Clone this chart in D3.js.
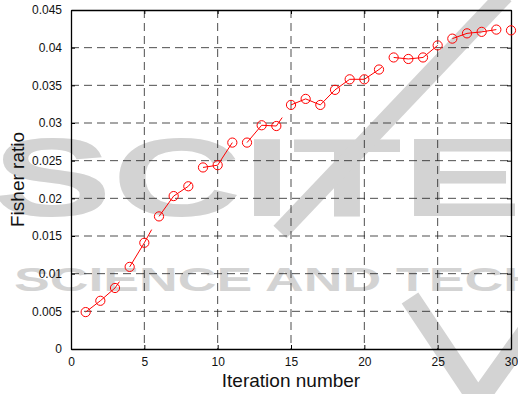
<!DOCTYPE html>
<html>
<head>
<meta charset="utf-8">
<script src="https://cdn.jsdelivr.net/npm/d3@7"></script>
<style>
  body { margin: 0; background: #fff; }
  svg { display: block; font-family: "Liberation Sans", Arial, sans-serif; }
</style>
</head>
<body>
<div id="chart"></div>
<script>
// iterations 1..30 and the Fisher ratio reached at each one
var iterations = d3.range(1, 31);
var fisherRatio = [0.0049, 0.0064, 0.0081, 0.0109, 0.0141, 0.0176, 0.0203, 0.0216, 0.0241, 0.0244,
                   0.0274, 0.0274, 0.0297, 0.0296, 0.0324, 0.0332, 0.0324, 0.0344, 0.0358, 0.0358,
                   0.0371, 0.0387, 0.0385, 0.0387, 0.0403, 0.0412, 0.0419, 0.0421, 0.0424, 0.0423];
// how much of each step (i -> i+1) of the connecting line is visible in the original
var stepDrawn = [1, 1, 0.3, 1, 0.5, 1, 1, 0.2, 1, 1,
                 0, 1, 1, 0.4, 1, 1, 1, 1, 1, 1,
                 0.2, 1, 1, 1, 0, 1, 1, 1, 0];
var xTicks = [0, 5, 10, 15, 20, 25, 30];
var yTicks = [0, 0.005, 0.01, 0.015, 0.02, 0.025, 0.03, 0.035, 0.04, 0.045];
var yTickLabels = ["0", "0.005", "0.01", "0.015", "0.02", "0.025", "0.03", "0.035", "0.04", "0.045"];

var width = 518, height = 394;
var margin = {top: 10, right: 7, bottom: 45, left: 71};
var plotW = width - margin.left - margin.right,
    plotH = height - margin.top - margin.bottom;

var svg = d3.select("#chart").append("svg")
    .attr("width", width)
    .attr("height", height);

// watermark in the background
var wm = svg.append("g").attr("fill", "#d3d3d3").attr("stroke", "none");
wm.append("text")
    .attr("x", -8).attr("y", 216)
    .attr("font-size", 112).attr("font-weight", "bold")
    .attr("textLength", 530).attr("lengthAdjust", "spacingAndGlyphs")
    .text("SCITE");
wm.append("text")
    .attr("x", 14).attr("y", 291)
    .attr("font-size", 33).attr("font-weight", "bold")
    .attr("textLength", 760).attr("lengthAdjust", "spacingAndGlyphs")
    .text("SCIENCE AND TECHNOLOGY");
wm.append("path")
    .attr("d", "M505,-5 L280,232")
    .attr("fill", "none").attr("stroke", "#d3d3d3").attr("stroke-width", 18);
wm.append("path")
    .attr("d", "M410,298 L478,400 L535,320")
    .attr("fill", "none").attr("stroke", "#d3d3d3").attr("stroke-width", 20);

var g = svg.append("g")
    .attr("transform", "translate(" + margin.left + "," + margin.top + ")");

var x = d3.scaleLinear().domain([0, 30]).range([0, plotW]);
var y = d3.scaleLinear().domain([0, 0.045]).range([plotH, 0]);

// dashed grid
g.append("g")
    .selectAll("line")
    .data(xTicks.slice(1, -1))
    .enter().append("line")
    .attr("x1", function(d) { return x(d); })
    .attr("x2", function(d) { return x(d); })
    .attr("y1", 0).attr("y2", plotH)
    .attr("stroke", "#222").attr("stroke-opacity", 0.8)
    .attr("stroke-dasharray", "8,5");
g.append("g")
    .selectAll("line")
    .data(yTicks.slice(1, -1))
    .enter().append("line")
    .attr("y1", function(d) { return y(d); })
    .attr("y2", function(d) { return y(d); })
    .attr("x1", 0).attr("x2", plotW)
    .attr("stroke", "#222").attr("stroke-opacity", 0.8)
    .attr("stroke-dasharray", "8,5");

// axes, ticks pointing inward like matlab
var xAxis = d3.axisBottom(x).tickValues(xTicks).tickSizeInner(-4).tickSizeOuter(0).tickPadding(8);
var yAxis = d3.axisLeft(y).tickValues(yTicks).tickSizeInner(-4).tickSizeOuter(0).tickPadding(8)
    .tickFormat(function(d, i) { return yTickLabels[i]; });

var gx = g.append("g")
    .attr("transform", "translate(0," + plotH + ")")
    .call(xAxis);
var gy = g.append("g").call(yAxis);
g.append("g")
    .call(d3.axisTop(x).tickValues(xTicks).tickSizeInner(-4).tickSizeOuter(0).tickFormat(""));
g.append("g")
    .attr("transform", "translate(" + plotW + ",0)")
    .call(d3.axisRight(y).tickValues(yTicks).tickSizeInner(-4).tickSizeOuter(0).tickFormat(""));

g.selectAll(".domain").attr("stroke", "#000").attr("stroke-width", 1.3);
g.selectAll(".tick line").attr("stroke", "#000");
g.selectAll(".tick text")
    .attr("font-family", "Liberation Sans, Arial, sans-serif")
    .attr("font-size", 12)
    .attr("fill", "#111");
gy.selectAll(".tick text").attr("dx", "-1");

// connecting line, drawn step by step
var steps = d3.range(fisherRatio.length - 1).map(function(i) {
  return {x0: iterations[i], y0: fisherRatio[i], x1: iterations[i + 1], y1: fisherRatio[i + 1], f: stepDrawn[i]};
});
g.append("g")
    .selectAll("line")
    .data(steps.filter(function(s) { return s.f > 0; }))
    .enter().append("line")
    .attr("x1", function(s) { return x(s.x0); })
    .attr("y1", function(s) { return y(s.y0); })
    .attr("x2", function(s) { return x(s.x0) + (x(s.x1) - x(s.x0)) * s.f; })
    .attr("y2", function(s) { return y(s.y0) + (y(s.y1) - y(s.y0)) * s.f; })
    .attr("stroke", "#ff0000")
    .attr("stroke-width", 1);

// circle markers
g.append("g")
    .selectAll("circle")
    .data(fisherRatio)
    .enter().append("circle")
    .attr("cx", function(d, i) { return x(iterations[i]); })
    .attr("cy", function(d) { return y(d); })
    .attr("r", 4.6)
    .attr("fill", "none")
    .attr("stroke", "#ff0000")
    .attr("stroke-width", 1);

// axis titles
svg.append("text")
    .attr("x", margin.left + plotW / 2)
    .attr("y", 387)
    .attr("text-anchor", "middle")
    .attr("font-size", 19)
    .attr("fill", "#111")
    .text("Iteration number");
svg.append("text")
    .attr("transform", "translate(24," + (margin.top + plotH / 2) + ") rotate(-90)")
    .attr("text-anchor", "middle")
    .attr("font-size", 19)
    .attr("fill", "#111")
    .text("Fisher ratio");
</script>
</body>
</html>
